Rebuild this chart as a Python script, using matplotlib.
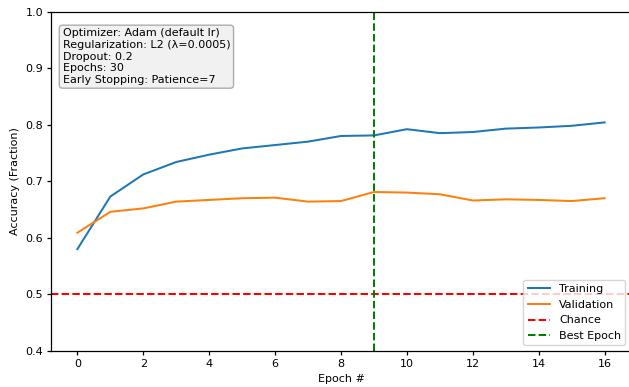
import matplotlib
matplotlib.use("Agg")
import matplotlib.pyplot as plt

epochs = list(range(17))
train_acc = [0.580, 0.673, 0.712, 0.734, 0.747, 0.758, 0.764, 0.770, 0.780, 0.781,
             0.792, 0.785, 0.787, 0.793, 0.795, 0.798, 0.804]
val_acc = [0.609, 0.646, 0.652, 0.664, 0.667, 0.670, 0.671, 0.664, 0.665, 0.681,
           0.680, 0.677, 0.666, 0.668, 0.667, 0.665, 0.670]
chance = 0.5
best_epoch = 9
info = ("Optimizer: Adam (default lr)\nRegularization: L2 (λ=0.0005)\nDropout: 0.2\n"
        "Epochs: 30\nEarly Stopping: Patience=7")

s = 0.8
plt.rcParams.update({
    "font.size": 10 * s,
    "lines.linewidth": 1.45,
    "axes.linewidth": 0.9,
    "xtick.major.size": 3.5 * s,
    "ytick.major.size": 3.5 * s,
    "xtick.major.width": 0.9,
    "ytick.major.width": 0.9,
    "xtick.major.pad": 3.5 * s,
    "ytick.major.pad": 3.5 * s,
    "legend.fontsize": 10 * s,
})

fig, ax = plt.subplots(figsize=(6.29, 3.87), dpi=100)
ax.plot(epochs, train_acc, label="Training")
ax.plot(epochs, val_acc, label="Validation")
ax.axhline(chance, color="red", linestyle="--", label="Chance")
ax.axvline(best_epoch, color="green", linestyle="--", label="Best Epoch")
ax.set_ylim(0.4, 1.0)
ax.set_xlabel("Epoch #")
ax.set_ylabel("Accuracy (Fraction)")
ax.set_xticks(range(0, 17, 2))
ax.legend(loc="lower right")
ax.text(0.02, 0.95, info, transform=ax.transAxes, va="top", ha="left",
        bbox=dict(boxstyle="round", facecolor="lightgray", alpha=0.3))
fig.subplots_adjust(left=51 / 629, right=631 / 629, top=1 - 11.5 / 387, bottom=1 - 351 / 387)
fig.savefig("out.png", dpi=100)
